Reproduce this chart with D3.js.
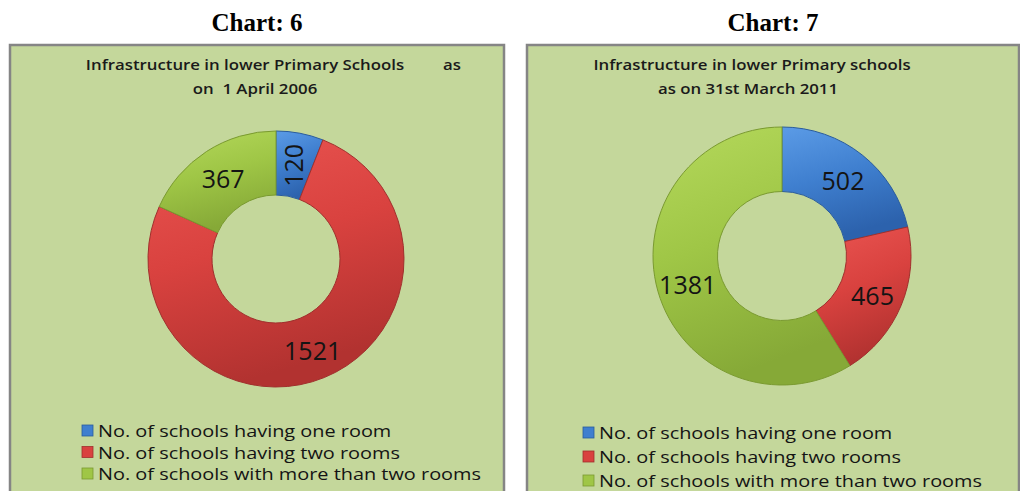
<!DOCTYPE html>
<html>
<head>
<meta charset="utf-8">
<script src="https://cdn.jsdelivr.net/npm/d3@7"></script>
<style>
  body { margin: 0; background: #fff; }
  svg { display: block; }
  text { white-space: pre; }
</style>
</head>
<body>
<div id="chart"></div>
<script>
// data
let categories = ["No. of schools having one room", "No. of schools having two rooms", "No. of schools with more than two rooms"];
let values2006 = [120, 1521, 367];
let values2011 = [502, 465, 1381];
let headings = ["Chart: 6", "Chart: 7"];
let titles2006 = ["Infrastructure in lower Primary Schools", "on  1 April 2006"];
let titles2011 = ["Infrastructure in lower Primary schools", "as on 31st March 2011"];

let width = 1020, height = 491;

let svg = d3.select("#chart")
    .append("svg")
    .attr("width", width)
    .attr("height", height);

// gradients to fake the excel bevel look
let shades = [
    {id: "blue", top: "#5b9be6", mid: "#3f7fcf", bot: "#2c62ad"},
    {id: "red", top: "#ea5552", mid: "#d9423f", bot: "#b23230"},
    {id: "green", top: "#b5d95c", mid: "#9fc646", bot: "#86a937"}
];
let defs = svg.append("defs");
shades.forEach(function(s) {
    let g = defs.append("linearGradient")
        .attr("id", "g-" + s.id)
        .attr("x1", 0).attr("y1", 0).attr("x2", 0.3).attr("y2", 1);
    g.append("stop").attr("offset", "0%").attr("stop-color", s.top);
    g.append("stop").attr("offset", "50%").attr("stop-color", s.mid);
    g.append("stop").attr("offset", "100%").attr("stop-color", s.bot);
});
let color = d3.scaleOrdinal()
    .domain(categories)
    .range(shades.map(function(s) { return "url(#g-" + s.id + ")"; }));
let edge = d3.scaleOrdinal()
    .domain(categories)
    .range(["#2a5c9c", "#a0302d", "#7a9a30"]);
let swatch = d3.scaleOrdinal()
    .domain(categories)
    .range(["#3f7fcf", "#d9423f", "#9fc646"]);

// the original text is a bit stretched sideways
let stretch = 1.17;

function drawPanel(p) {
    let g = svg.append("g");

    // heading above the panel
    g.append("text")
        .attr("x", p.x0 + (p.x1 - p.x0) / 2)
        .attr("y", 31)
        .attr("text-anchor", "middle")
        .style("font-family", "'Liberation Serif', 'Times New Roman', serif")
        .style("font-weight", "bold")
        .style("font-size", "25px")
        .text(p.heading);

    // green panel
    g.append("rect")
        .attr("x", p.x0)
        .attr("y", 45)
        .attr("width", p.x1 - p.x0)
        .attr("height", height)
        .attr("fill", "#c4d79b")
        .attr("stroke", "#858585")
        .attr("stroke-width", 2.5);

    // title
    let t = g.append("g")
        .style("font-family", "'Open Sans', sans-serif")
        .style("font-weight", 600)
        .style("font-size", "14px")
        .attr("fill", "#1a1a1a");
    t.append("text")
        .attr("transform", "translate(" + p.titleX + ",70) scale(" + 1.2 + ",1)")
        .attr("text-anchor", "middle")
        .text(p.titles[0]);
    if (p.titleTail) {
        t.append("text")
            .attr("transform", "translate(" + p.titleTail + ",70) scale(" + 1.2 + ",1)")
            .text("as");
    }
    t.append("text")
        .attr("transform", "translate(" + p.title2X + ",94) scale(" + 1.2 + ",1)")
        .attr("text-anchor", "middle")
        .text(p.titles[1]);

    // donut
    let data = categories.map(function(c, i) { return {key: c, value: p.values[i]}; });
    let pie = d3.pie().sort(null).value(function(d) { return d.value; });
    let arc = d3.arc().innerRadius(p.r * 0.5).outerRadius(p.r);
    let labelArc = d3.arc().innerRadius(p.r * 0.76).outerRadius(p.r * 0.76);

    let donut = g.append("g")
        .attr("transform", "translate(" + p.cx + "," + p.cy + ")");
    donut.selectAll("path")
        .data(pie(data))
        .enter()
        .append("path")
        .attr("d", arc)
        .attr("fill", function(d) { return color(d.data.key); })
        .attr("stroke", function(d) { return edge(d.data.key); })
        .attr("stroke-width", 1);

    donut.selectAll("text")
        .data(pie(data))
        .enter()
        .append("text")
        .attr("transform", function(d) {
            let c = labelArc.centroid(d);
            let narrow = (d.endAngle - d.startAngle) < 0.5;
            return "translate(" + c[0] + "," + (c[1] + 2) + ")" + (narrow ? " rotate(-90)" : "");
        })
        .attr("text-anchor", "middle")
        .attr("dy", "0.36em")
        .style("font-family", "'Open Sans', sans-serif")
        .style("font-size", "25px")
        .attr("fill", "#141414")
        .text(function(d) { return d.value; });

    // legend
    let leg = g.append("g")
        .style("font-family", "'Open Sans', sans-serif")
        .style("font-size", "17px")
        .attr("fill", "#141414");
    let rows = leg.selectAll("g")
        .data(categories)
        .enter()
        .append("g")
        .attr("transform", function(d, i) { return "translate(" + p.legX + "," + (p.legY + i * p.legStep) + ")"; });
    rows.append("rect")
        .attr("x", 0)
        .attr("y", -6)
        .attr("width", 11)
        .attr("height", 11)
        .attr("fill", function(d) { return swatch(d); })
        .attr("stroke", function(d) { return edge(d); })
        .attr("stroke-width", 0.8);
    rows.append("text")
        .attr("transform", "translate(16,0) scale(" + stretch + ",1)")
        .attr("dy", "0.36em")
        .text(function(d) { return d; });
}

drawPanel({
    heading: headings[0], titles: titles2006, values: values2006,
    x0: 10, x1: 504, titleX: 245, titleTail: 443, title2X: 255,
    cx: 276, cy: 259, r: 128,
    legX: 82, legY: 431, legStep: 21.5
});
drawPanel({
    heading: headings[1], titles: titles2011, values: values2011,
    x0: 527, x1: 1019, titleX: 752, titleTail: null, title2X: 748,
    cx: 782, cy: 256, r: 129,
    legX: 583, legY: 433, legStep: 24
});
</script>
</body>
</html>
